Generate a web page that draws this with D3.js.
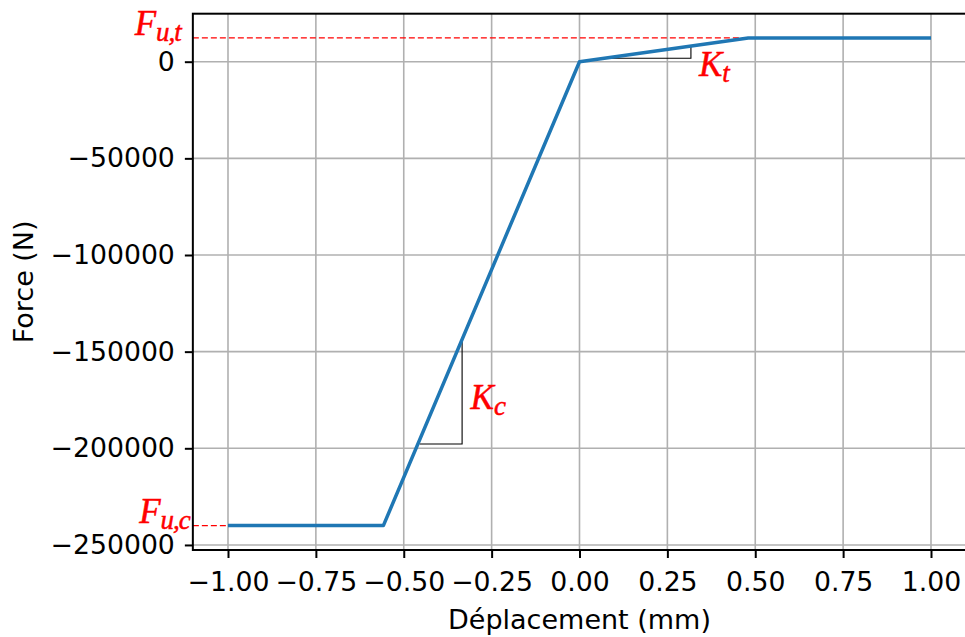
<!DOCTYPE html>
<html>
<head>
<meta charset="utf-8">
<script src="https://cdn.jsdelivr.net/npm/d3@7"></script>
<style>
  html, body { margin: 0; padding: 0; background: #fff; }
  svg { display: block; }
</style>
</head>
<body>
<div id="chart"></div>
<script>
// ---- data ----
const displacement = [-1.0, -0.558, 0.0, 0.48, 1.0];          // mm
const force        = [-240000, -240000, 0, 12300, 12300];      // N
const Fut = 12300;      // ultimate tensile force
const Fuc = -240000;    // ultimate compressive force
const xTicks = [-1.0, -0.75, -0.5, -0.25, 0.0, 0.25, 0.5, 0.75, 1.0];
const yTicks = [0, -50000, -100000, -150000, -200000, -250000];
const triKt = [[0.074, 1800], [0.317, 1800], [0.317, 8100]];
const triKc = [[-0.455, -197800], [-0.334, -197800], [-0.334, -145000]];
const xLabel = "Déplacement (mm)";
const yLabel = "Force (N)";

// ---- layout ----
const W = 965, H = 637;
const pL = 192.85, pR = 966.15, pT = 13.7, pB = 550;

const svg = d3.select("#chart").append("svg")
  .attr("width", W).attr("height", H);

const x = d3.scaleLinear().domain([-1.1, 1.1]).range([pL, pR]);
const y = d3.scaleLinear().domain([-252610, 24830]).range([pB, pT]);

const fontSans = "'DejaVu Sans', sans-serif";
const fontMath = "'Liberation Serif', 'DejaVu Serif', serif";

// grid
const grid = svg.append("g");
grid.selectAll("line.gx").data(xTicks).join("line")
  .attr("x1", d => x(d)).attr("x2", d => x(d))
  .attr("y1", pT).attr("y2", pB)
  .attr("stroke", "#b0b0b0").attr("stroke-width", 1.6);
grid.selectAll("line.gy").data(yTicks).join("line")
  .attr("y1", d => y(d)).attr("y2", d => y(d))
  .attr("x1", pL).attr("x2", pR)
  .attr("stroke", "#b0b0b0").attr("stroke-width", 1.6);

// dashed limit lines
svg.append("line")
  .attr("x1", pL).attr("x2", x(displacement[3]))
  .attr("y1", y(Fut)).attr("y2", y(Fut))
  .attr("stroke", "#ff0000").attr("stroke-width", 1.4)
  .attr("stroke-dasharray", "6,3");
svg.append("line")
  .attr("x1", pL).attr("x2", x(displacement[0]))
  .attr("y1", y(Fuc)).attr("y2", y(Fuc))
  .attr("stroke", "#ff0000").attr("stroke-width", 1.4)
  .attr("stroke-dasharray", "6,3");

// slope triangles
const triLine = d3.line().x(d => x(d[0])).y(d => y(d[1]));
[triKt, triKc].forEach(t => {
  svg.append("path").attr("d", triLine(t))
    .attr("fill", "none").attr("stroke", "#000").attr("stroke-width", 1.1);
});

// curve
const pts = displacement.map((d, i) => [d, force[i]]);
svg.append("path")
  .attr("d", d3.line().x(d => x(d[0])).y(d => y(d[1]))(pts))
  .attr("fill", "none").attr("stroke", "#1f77b4")
  .attr("stroke-width", 3.5).attr("stroke-linejoin", "round");

// axes
const xAxis = svg.append("g").attr("transform", `translate(0,${pB})`)
  .call(d3.axisBottom(x).tickValues(xTicks).tickFormat(d3.format(".2f"))
    .tickSize(8).tickPadding(14));
const yAxis = svg.append("g").attr("transform", `translate(${pL},0)`)
  .call(d3.axisLeft(y).tickValues(yTicks).tickFormat(d3.format("d"))
    .tickSize(8).tickPadding(10));
[xAxis, yAxis].forEach(a => {
  a.select(".domain").remove();
  a.selectAll(".tick line").attr("stroke", "#000").attr("stroke-width", 2);
  a.selectAll(".tick text").attr("fill", "#000")
    .style("font-family", fontSans).style("font-size", "26.7px");
});

// frame
svg.append("rect")
  .attr("x", pL).attr("y", pT)
  .attr("width", pR - pL).attr("height", pB - pT)
  .attr("fill", "none").attr("stroke", "#000").attr("stroke-width", 2);

// axis labels
svg.append("text").attr("x", (pL + pR) / 2).attr("y", 629)
  .attr("text-anchor", "middle")
  .style("font-family", fontSans).style("font-size", "27px").text(xLabel);
svg.append("text")
  .attr("transform", `translate(33,${(pT + pB) / 2}) rotate(-90)`)
  .attr("text-anchor", "middle")
  .style("font-family", fontSans).style("font-size", "27px").text(yLabel);

// math annotations
function mathLabel(px, py, main, sub, anchor) {
  const t = svg.append("text").attr("x", px).attr("y", py)
    .attr("text-anchor", anchor)
    .attr("fill", "#ff0000").attr("stroke", "#ff0000").attr("stroke-width", 0.5)
    .style("font-family", fontMath).style("font-style", "italic")
    .style("font-size", "35px");
  t.append("tspan").text(main);
  t.append("tspan").attr("dy", 6).style("font-size", "27px")
    .style("letter-spacing", "-1px").text(sub);
}
mathLabel(pL - 12, y(Fut) - 3, "F", "u,t", "end");
mathLabel(pL - 3, y(Fuc) - 3, "F", "u,c", "end");
mathLabel(x(0.34), y(0) + 14, "K", "t", "start");
mathLabel(x(-0.31), y(-179500), "K", "c", "start");
</script>
</body>
</html>
